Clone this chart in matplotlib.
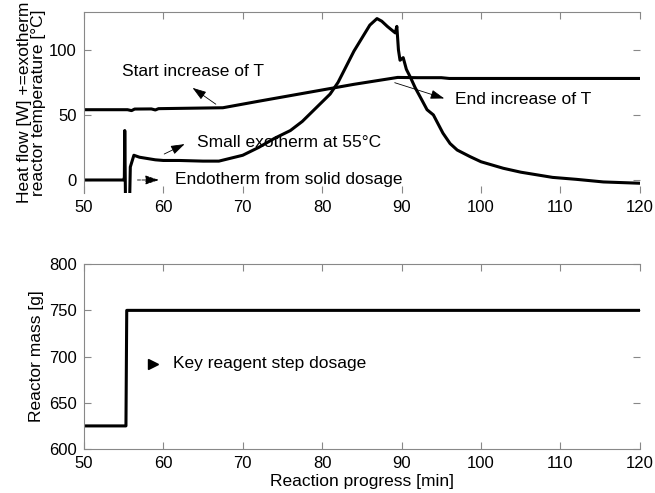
import matplotlib.pyplot as plt
import numpy as np

plt.rcParams['font.family'] = ['Liberation Sans', 'DejaVu Sans']

# reactor temperature [°C]
t_time = [50, 55.5, 56.0, 56.4, 58.5, 59.0, 59.4, 67.5, 72, 78, 84, 89.5, 92, 95, 96, 120]
t_temp = [54, 54, 53.3, 54.5, 54.6, 53.8, 54.8, 55.5, 60.5, 67, 73.5, 78.8, 78.6, 78.6, 78, 78]

# heat flow [W]
q_time = [50, 55.0, 55.1, 55.15, 55.25, 55.75, 55.85, 56.3, 57, 58, 59, 60, 62, 65, 67,
          68, 70, 72, 74, 76, 77.5, 79, 80, 81, 82, 83, 84, 85, 86, 86.9, 87.5, 88.2,
          89.2, 89.4, 89.6, 89.8, 90.2, 90.6, 91.1, 91.7, 92.5, 93.2, 94, 95.2, 96.1,
          97, 98.6, 100, 102.8, 105, 109, 112, 115.4, 120]
q_flow = [0, 0, 2, 38, -20, -20, 10, 19, 17.5, 16.5, 15.5, 15, 15, 14.5, 14.5,
          16, 19, 25, 32, 38, 45, 54, 60, 66, 75, 87, 99, 109, 119, 124, 122, 118,
          113, 118, 100, 92, 94, 85, 79, 71, 62, 54, 50, 36, 28,
          23, 18, 14, 9, 6, 2, 0.5, -1.5, -2.5]

# reactor mass [g]
m_time = [50, 55.3, 55.4, 120]
m_mass = [625, 625, 750, 750]

spine_c = '#888888'

fig = plt.figure(figsize=(6.55, 4.93), dpi=100)
ax1 = fig.add_axes([0.128, 0.6085, 0.849, 0.367])
ax2 = fig.add_axes([0.128, 0.0892, 0.849, 0.375])

for ax in (ax1, ax2):
    ax.tick_params(direction='in', length=5, width=0.8, color=spine_c,
                   top=True, right=True, labelsize=12, pad=5)
    for s in ax.spines.values():
        s.set_color(spine_c)
        s.set_linewidth(0.8)
    ax.spines['right'].set_visible(False)
    ax.set_xlim(50, 120)
    ax.set_xticks(np.arange(50, 121, 10))
ax1.spines['bottom'].set_visible(False)

ax1.plot(t_time, t_temp, color='black', lw=2.2)
ax1.plot(q_time, q_flow, color='black', lw=2.2)
ax1.set_ylim(-10, 129)
ax1.set_yticks([0, 50, 100])
ax1.set_ylabel('Heat flow [W] +=exotherm\nreactor temperature [°C]', fontsize=12.5,
               linespacing=0.95, labelpad=2)

arr = dict(arrowstyle='-|>,head_length=0.6,head_width=0.2', color='black', lw=0.6,
           mutation_scale=14)
ax1.annotate('', xy=(63.4, 72), xytext=(66.9, 57), arrowprops=arr)
ax1.text(54.8, 83, 'Start increase of T', fontsize=12.5, va='center')
ax1.annotate('', xy=(95.7, 62), xytext=(88.8, 75.4), arrowprops=arr)
ax1.text(96.7, 61.5, 'End increase of T', fontsize=12.5, va='center')
ax1.annotate('', xy=(63.0, 28.5), xytext=(59.8, 19), arrowprops=arr)
ax1.text(64.2, 28.5, 'Small exotherm at 55°C', fontsize=12.5, va='center')
ax1.annotate('', xy=(59.8, 0), xytext=(56.4, 0),
             arrowprops=dict(arrowstyle='-|>,head_length=0.6,head_width=0.2',
                             color='black', lw=0.6, ls='--', mutation_scale=14))
ax1.text(61.5, 0, 'Endotherm from solid dosage', fontsize=12.5, va='center')

ax2.plot(m_time, m_mass, color='black', lw=2.2)
ax2.set_ylim(600, 800)
ax2.set_yticks([600, 650, 700, 750, 800])
ax2.set_ylabel('Reactor mass [g]', fontsize=12.5)
ax2.set_xlabel('Reaction progress [min]', fontsize=12.5, labelpad=2)
ax2.plot([58.7], [692], marker='>', color='black', markersize=7)
ax2.text(61.2, 692, 'Key reagent step dosage', fontsize=12.5, va='center')

fig.savefig('out.png', dpi=100)
